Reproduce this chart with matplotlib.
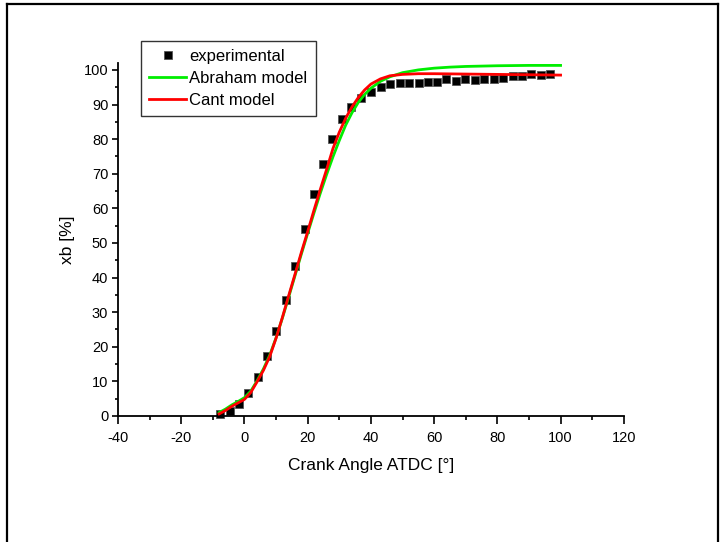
import matplotlib
matplotlib.use("Agg")
import matplotlib.pyplot as plt
from matplotlib.lines import Line2D

plt.rcParams['font.family'] = ['Liberation Sans', 'DejaVu Sans']
plt.rcParams['axes.unicode_minus'] = False

# measured mass fraction burned
exp_angle = [-7.6, -4.7, -1.7, 1.2, 4.2, 7.1, 10.1, 13.0, 16.0, 19.0, 21.9, 24.9,
             27.8, 30.8, 33.8, 36.9, 40.0, 43.1, 46.1, 49.1, 52.1, 55.1, 58.1, 60.9,
             63.9, 66.9, 69.9, 72.9, 75.9, 78.9, 81.8, 84.9, 87.8, 90.8, 93.8, 96.8]
exp_xb = [0.6, 1.4, 3.5, 6.6, 11.4, 17.3, 24.7, 33.5, 43.4, 54.0, 64.0, 72.8,
          80.0, 85.8, 89.3, 91.8, 93.7, 95.0, 95.8, 96.2, 96.3, 96.3, 96.4, 96.6,
          97.3, 96.8, 97.3, 97.1, 97.3, 97.4, 97.7, 98.1, 98.3, 98.9, 98.6, 98.8]

# model curves
model_angle = [-8, -6, -4, -2, 0, 2, 4, 6, 8, 10, 12, 14, 16, 18, 20, 22, 24, 26,
               28, 30, 32, 34, 36, 38, 40, 43, 46, 50, 55, 60, 65, 70, 80, 90, 100]
abraham_xb = [1.0, 2.0, 3.2, 4.2, 5.3, 7.2, 10.2, 13.6, 17.6, 22.6, 28.3, 34.4,
              40.6, 46.8, 52.8, 58.7, 64.4, 69.8, 74.9, 79.6, 84.0, 87.6, 90.6,
              92.9, 94.7, 96.7, 98.0, 99.2, 100.0, 100.5, 100.8, 101.0, 101.2,
              101.3, 101.3]
cant_xb = [0.6, 1.6, 2.8, 3.8, 4.8, 6.8, 9.9, 13.2, 17.2, 22.5, 28.5, 34.8,
           41.0, 47.3, 53.3, 59.5, 65.5, 71.3, 77.3, 82.0, 86.0, 89.3, 92.0,
           94.2, 95.9, 97.4, 98.3, 98.7, 98.9, 98.9, 98.85, 98.8, 98.7, 98.6, 98.5]

fig = plt.figure(figsize=(7.25, 5.42), dpi=100)
ax = fig.add_axes([0.1628, 0.2325, 0.6976, 0.6513])

ax.plot(exp_angle, exp_xb, 's', color='black', markersize=6, markeredgewidth=0.6,
        markeredgecolor='#555555', label='experimental', clip_on=False, zorder=2)
ax.plot(model_angle, abraham_xb, color='#00ee00', lw=2, label='Abraham model', zorder=3)
ax.plot(model_angle, cant_xb, color='#ff0000', lw=2, label='Cant model', zorder=4)

ax.set_xlim(-40, 120)
ax.set_ylim(0, 102)
ax.set_xticks(range(-40, 121, 20))
ax.set_xticks(range(-30, 120, 20), minor=True)
ax.set_yticks(range(0, 101, 10))
ax.set_yticks(range(5, 100, 10), minor=True)

ax.spines['top'].set_visible(False)
ax.spines['right'].set_visible(False)
for s in ('left', 'bottom'):
    ax.spines[s].set_linewidth(1.3)

ax.tick_params(axis='x', which='major', direction='out', length=6, width=1.2, labelsize=10.5, pad=5)
ax.tick_params(axis='x', which='minor', direction='out', length=3, width=1.2)
ax.tick_params(axis='y', which='major', direction='out', length=4, width=1.2, labelsize=10.5, pad=3)
ax.tick_params(axis='y', which='minor', direction='out', length=2, width=1.2)

ax.set_xlabel('Crank Angle ATDC [°]', fontsize=12.5, labelpad=9)
ax.set_ylabel('xb [%]', fontsize=12.5, labelpad=6)

leg = ax.legend(loc='upper left', bbox_to_anchor=(0.0455, 1.063), borderaxespad=0,
                fontsize=12, frameon=True, fancybox=False, edgecolor='black',
                handlelength=2.2, handletextpad=0.2, borderpad=0.5, labelspacing=0.42)
leg.get_frame().set_linewidth(1.0)

# page frame
for xs, ys in (([0.0097, 0.991], [0.9926, 0.9926]),
               ([0.0097, 0.0097], [0.0, 0.9926]),
               ([0.991, 0.991], [0.0, 0.9926])):
    fig.add_artist(Line2D(xs, ys, color='black', lw=1.6, transform=fig.transFigure))

fig.savefig('out.png', dpi=100)
